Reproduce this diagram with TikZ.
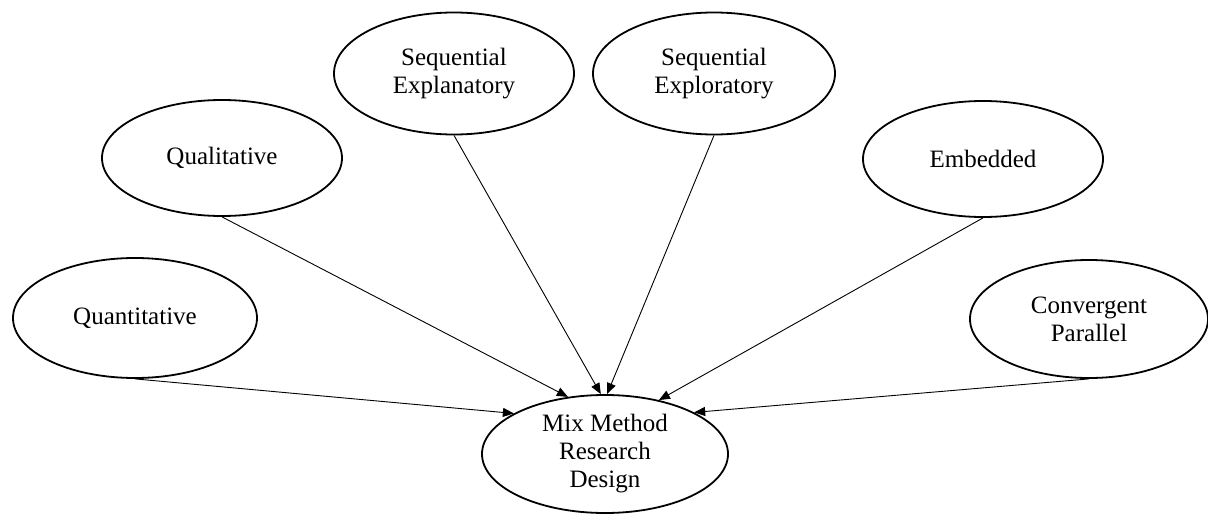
\documentclass[tikz,border=0pt]{standalone}
\usepackage{fontspec}
\setmainfont{Liberation Serif}
\usetikzlibrary{shapes.geometric,arrows.meta}
\begin{document}
\begin{tikzpicture}[x=1pt,y=-1pt,
  oval/.style={ellipse,draw,line width=1.8pt,inner sep=0pt,align=center,
    font=\fontsize{25}{28}\selectfont},
  conn/.style={line width=0.9pt,-{Triangle[length=11pt,width=9pt]}}]
\useasboundingbox (0,0) rectangle (1208,514);
\node[oval,minimum width=244pt,minimum height=120pt] (quant) at (135,318) {Quantitative};
\node[oval,minimum width=240pt,minimum height=116pt] (qual) at (222,158) {Qualitative};
\node[oval,minimum width=240pt,minimum height=122pt] (sexpl) at (454,73.5) {Sequential\\Explanatory};
\node[oval,minimum width=242pt,minimum height=122pt] (sexplor) at (714,73.5) {Sequential\\Exploratory};
\node[oval,minimum width=240pt,minimum height=116pt] (emb) at (983,159) {Embedded};
\node[oval,minimum width=238pt,minimum height=118pt] (conv) at (1089,319) {Convergent\\Parallel};
\node[oval,minimum width=246pt,minimum height=118pt] (mix) at (605,454) {Mix Method\\Research\\Design};
\draw[conn] (quant.south) -- (mix.156);
\draw[conn] (qual.south) -- (mix.123);
\draw[conn] (sexpl.south) -- (mix.94);
\draw[conn] (sexplor.south) -- (mix.88);
\draw[conn] (emb.south) -- (mix.45.5);
\draw[conn] (conv.south) -- (mix.25);
\end{tikzpicture}
\end{document}
